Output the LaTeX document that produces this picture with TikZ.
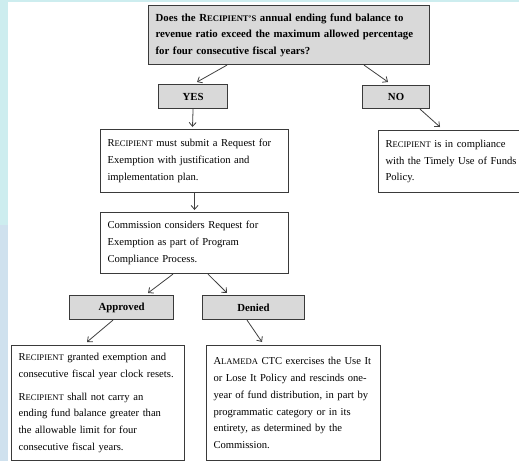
\documentclass[tikz,border=0pt]{standalone}
\usepackage{fontspec}
\setmainfont{Liberation Serif}
\usetikzlibrary{arrows.meta}
\definecolor{boxgray}{HTML}{D9D9D9}
\definecolor{boxline}{HTML}{3A3A3A}
\definecolor{arrowcol}{HTML}{404040}
\definecolor{stripcyan}{HTML}{CDEDEF}
\definecolor{stripblue}{HTML}{CFE1EE}
\newcommand\Smc[2]{#1{\fontsize{8.6}{10}\selectfont #2}}
\begin{document}
\begin{tikzpicture}[x=1pt,y=-1pt,
  box/.style={draw=boxline, line width=1.1pt, anchor=north west, inner xsep=7pt, inner ysep=0pt,
    align=left, font=\fontsize{10.6}{16.8}\selectfont},
  gbox/.style={box, fill=boxgray},
  lab/.style={gbox, align=center, font=\bfseries\fontsize{10.8}{12}\selectfont},
  arr/.style={draw=arrowcol, line width=0.8pt, -{Straight Barb[length=4pt,width=7pt]}}]
\clip (0,0) rectangle (519,461);
\fill[white] (0,0) rectangle (519,461);
\fill[stripcyan] (0,0) rectangle (8,225);
\fill[stripblue] (0,225) rectangle (8,461);
\fill[stripcyan] (0,0) rectangle (519,2);

\node[gbox, minimum width=281pt, minimum height=59pt, text width=267pt,
  font=\bfseries\fontsize{10.8}{16.5}\selectfont] (q) at (148,5)
  {Does the \Smc{R}{ECIPIENT'S} annual ending fund balance to\\
   revenue ratio exceed the maximum allowed percentage\\
   for four consecutive fiscal years?};

\node[lab, minimum width=69pt, minimum height=24pt] (yes) at (158,84) {YES};
\node[lab, minimum width=67pt, minimum height=23pt] (no) at (362,85) {NO};

\node[box, minimum width=188pt, minimum height=63pt, text width=174pt] (r1) at (100,129)
  {\Smc{R}{ECIPIENT} must submit a Request for\\
   Exemption with justification and\\
   implementation plan.};

\node[box, minimum width=160pt, minimum height=62pt, text width=146pt] (noout) at (378,130)
  {\Smc{R}{ECIPIENT} is in compliance\\
   with the Timely Use of Funds\\
   Policy.};

\node[box, minimum width=188pt, minimum height=61pt, text width=174pt] (comm) at (100,212)
  {Commission considers Request for\\
   Exemption as part of Program\\
   Compliance Process.};

\node[lab, minimum width=104pt, minimum height=24pt] (appr) at (69,295) {Approved};
\node[lab, minimum width=102pt, minimum height=24pt] (den) at (202,295) {Denied};

\node[box, minimum width=173pt, minimum height=115pt, text width=159pt] (aout) at (11,345)
  {\Smc{R}{ECIPIENT} granted exemption and\\
   consecutive fiscal year clock resets.\\[6pt]
   \Smc{R}{ECIPIENT} shall not carry an\\
   ending fund balance greater than\\
   the allowable limit for four\\
   consecutive fiscal years.};

\node[box, minimum width=174pt, minimum height=115pt, text width=160pt] (dout) at (206,345)
  {\Smc{A}{LAMEDA} CTC exercises the Use It\\
   or Lose It Policy and rescinds one-\\
   year of fund distribution, in part by\\
   programmatic category or in its\\
   entirety, as determined by the\\
   Commission.};

\draw[arr] ([xshift=79pt]q.south west) -- ([xshift=39pt,yshift=2pt]yes.north west);
\draw[arr] ([xshift=216pt]q.south west) -- ([xshift=26pt,yshift=3pt]no.north west);
\draw[arr] (yes.south) -- ([xshift=34.5pt,yshift=2pt]yes.south west |- r1.north);
\draw[arr] ([xshift=58pt]no.south west) -- ([xshift=62pt,yshift=3pt]noout.north west);
\draw[arr] (r1.south) -- ([yshift=2pt]comm.north);
\draw[arr] ([xshift=73pt]comm.south west) -- ([xshift=79pt,yshift=2pt]appr.north west);
\draw[arr] ([xshift=108pt]comm.south west) -- ([xshift=25pt,yshift=2pt]den.north west);
\draw[arr] ([xshift=44pt]appr.south west) -- ([xshift=76pt,yshift=3pt]aout.north west);
\draw[arr] ([xshift=45pt]den.south west) -- ([xshift=56pt,yshift=3pt]dout.north west);
\end{tikzpicture}
\end{document}
